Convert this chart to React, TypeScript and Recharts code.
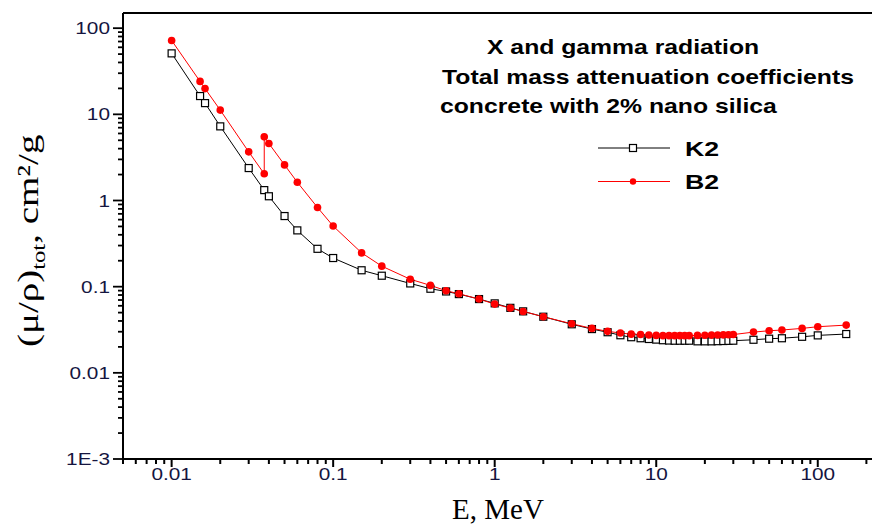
import React from 'react';
import { LineChart, Line, XAxis, YAxis, Legend, ReferenceLine } from 'recharts';

// photon energies, MeV
const energyK2 = [
  0.01, 0.015, 0.0161, 0.02, 0.03, 0.03744, 0.04, 0.05, 0.06, 0.08,
  0.1, 0.15, 0.2, 0.3, 0.4, 0.5, 0.6, 0.8, 1, 1.25,
  1.5, 2, 3, 4, 5, 6, 7, 8, 9, 10,
  11, 12, 13, 14, 15, 16, 18, 20, 22, 24,
  26, 28, 30, 40, 50, 60, 80, 100, 150,
];
const muK2 = [
  51, 16.3, 13.5, 7.25, 2.38, 1.32, 1.12, 0.66, 0.45, 0.275,
  0.215, 0.155, 0.134, 0.109, 0.0946, 0.088, 0.082, 0.0718, 0.064, 0.0568,
  0.0517, 0.0448, 0.0366, 0.0322, 0.0296, 0.0273, 0.0259, 0.0252, 0.0247, 0.0243,
  0.0239, 0.0237, 0.0236, 0.0236, 0.0236, 0.0236, 0.0232, 0.0232, 0.0232, 0.0233,
  0.0234, 0.0235, 0.0236, 0.0242, 0.0249, 0.0252, 0.0262, 0.0272, 0.0282,
];

const energyB2 = [
  0.01, 0.015, 0.0161, 0.02, 0.03, 0.03744, 0.03744, 0.04, 0.05, 0.06,
  0.08, 0.1, 0.15, 0.2, 0.3, 0.4, 0.5, 0.6, 0.8, 1,
  1.25, 1.5, 2, 3, 4, 5, 6, 7, 8, 9,
  10, 11, 12, 13, 14, 15, 16, 18, 20, 22,
  24, 26, 28, 30, 40, 50, 60, 80, 100, 150,
];
const muB2 = [
  72, 24.1, 19.9, 11.2, 3.67, 2.04, 5.48, 4.59, 2.59, 1.63,
  0.83, 0.505, 0.247, 0.173, 0.122, 0.1035, 0.0898, 0.0828, 0.0718, 0.0628,
  0.0565, 0.0516, 0.0448, 0.0371, 0.0328, 0.0303, 0.029, 0.0281, 0.0279, 0.0275,
  0.0272, 0.027, 0.027, 0.027, 0.027, 0.027, 0.027, 0.0272, 0.0273, 0.0274,
  0.0275, 0.0276, 0.0277, 0.0278, 0.0297, 0.0308, 0.0314, 0.0328, 0.0343, 0.0358,
];

const seriesNames = ['K2', 'B2'];

const xMajor = [0.01, 0.1, 1, 10, 100];
const xLabels = ['0.01', '0.1', '1', '10', '100'];
const yMajor = [0.001, 0.01, 0.1, 1, 10, 100];
const yLabels = ['1E-3', '0.01', '0.1', '1', '10', '100'];

const titleLines = [
  'X and gamma radiation',
  'Total mass attenuation coefficients',
  'concrete with 2% nano silica',
];

const k2Data = energyK2.map((e, i) => ({ e, mu: muK2[i] }));
const b2Data = energyB2.map((e, i) => ({ e, mu: muB2[i] }));

const decadeTicks = (decades: number[], lo: number, hi: number) => {
  const out: number[] = [];
  decades.forEach((d) => {
    for (let k = 1; k <= 9; k++) {
      const v = +(d * k).toPrecision(6);
      if (v >= lo && v <= hi) out.push(v);
    }
  });
  return out;
};
const xTicks = decadeTicks([0.001, 0.01, 0.1, 1, 10, 100], 0.005, 200);
const yTicks = decadeTicks([0.001, 0.01, 0.1, 1, 10, 100], 0.001, 100);

const SX = 1.27;
const SANS = 'Liberation Sans, Arial, sans-serif';
const SERIF = 'Liberation Serif, Times New Roman, serif';
const TICK_COLOR = '#15153f';

const findMajor = (list: number[], v: number) =>
  list.findIndex((m) => Math.abs(m - v) / m < 1e-6);

const XTick = (props: any) => {
  const { x, y, payload } = props;
  const idx = findMajor(xMajor, payload.value);
  const major = idx >= 0;
  return (
    <g>
      <line x1={x} x2={x} y1={y} y2={y + (major ? 8 : 5)} stroke="#000" strokeWidth={2} />
      {major && (
        <text
          transform={`translate(${x},${y + 21}) scale(1.3,1)`}
          textAnchor="middle"
          fontSize={16}
          fontFamily={SANS}
          fill={TICK_COLOR}
        >
          {xLabels[idx]}
        </text>
      )}
    </g>
  );
};

const YTick = (props: any) => {
  const { x, y, payload } = props;
  const idx = findMajor(yMajor, payload.value);
  const major = idx >= 0;
  return (
    <g>
      <line x1={x - (major ? 10 : 5)} x2={x} y1={y} y2={y} stroke="#000" strokeWidth={1.8} />
      {major && (
        <text
          transform={`translate(${x - 13},${y + 6}) scale(1.3,1)`}
          textAnchor="end"
          fontSize={16}
          fontFamily={SANS}
          fill={TICK_COLOR}
        >
          {yLabels[idx]}
        </text>
      )}
    </g>
  );
};

const SquareDot = (props: any) => {
  const { cx, cy, index } = props;
  return (
    <rect key={`k2-${index}`} x={cx - 3.5} y={cy - 3.5} width={7} height={7} fill="#fff" stroke="#000" strokeWidth={1.2} />
  );
};

const RedDot = (props: any) => {
  const { cx, cy, index } = props;
  return <circle key={`b2-${index}`} cx={cx} cy={cy} r={3.8} fill="#ff0000" />;
};

const renderLegend = (props: any) => {
  const entries = [...(props.payload || [])].sort(
    (a: any, b: any) => seriesNames.indexOf(a.value) - seriesNames.indexOf(b.value)
  );
  return (
    <svg width={150} height={70}>
      {entries.map((entry: any, i: number) => {
        const cy = 18 + i * 33.5;
        const square = entry.value === 'K2';
        return (
          <g key={entry.value}>
            <line x1={8} x2={80} y1={cy} y2={cy} stroke={entry.color} strokeWidth={1} />
            {square ? (
              <rect x={39.5} y={cy - 3.5} width={7} height={7} fill="#fff" stroke="#000" strokeWidth={1.2} />
            ) : (
              <circle cx={43} cy={cy} r={3.2} fill="#ff0000" />
            )}
            <text
              transform={`translate(95,${cy + 7.5}) scale(${SX},1)`}
              fontSize={21}
              fontWeight="bold"
              fontFamily={SANS}
              fill="#000"
            >
              {entry.value}
            </text>
          </g>
        );
      })}
    </svg>
  );
};

export default function App() {
  return (
    <div
      style={{
        position: 'absolute',
        left: 0,
        top: 0,
        width: 872,
        height: 527,
        overflow: 'hidden',
        background: '#fff',
      }}
    >
      <LineChart width={890} height={527} margin={{ top: 13, right: 0, bottom: 0, left: 0 }}>
        <XAxis
          dataKey="e"
          type="number"
          scale="log"
          domain={[0.005, 280]}
          allowDataOverflow
          ticks={xTicks}
          interval={0}
          tickSize={0}
          tickMargin={0}
          tickLine={false}
          tick={<XTick />}
          axisLine={{ stroke: '#000', strokeWidth: 2 }}
          height={68}
        />
        <YAxis
          dataKey="mu"
          type="number"
          scale="log"
          domain={[0.001, 150]}
          allowDataOverflow
          ticks={yTicks}
          interval={0}
          tickSize={0}
          tickMargin={0}
          tickLine={false}
          tick={<YTick />}
          axisLine={{ stroke: '#000', strokeWidth: 2 }}
          width={123}
        />
        <ReferenceLine y={150} stroke="#000" strokeWidth={2} />
        <Line
          data={k2Data}
          dataKey="mu"
          name="K2"
          type="linear"
          stroke="#000"
          strokeWidth={1}
          dot={SquareDot}
          activeDot={false}
          isAnimationActive={false}
        />
        <Line
          data={b2Data}
          dataKey="mu"
          name="B2"
          type="linear"
          stroke="#ff0000"
          strokeWidth={1}
          dot={RedDot}
          activeDot={false}
          isAnimationActive={false}
        />
        <Legend
          layout="horizontal"
          verticalAlign="middle"
          align="center"
          content={renderLegend}
          wrapperStyle={{ position: 'absolute', left: 590, top: 130, width: 150, height: 70 }}
        />
      </LineChart>
      <svg
        width={872}
        height={527}
        style={{ position: 'absolute', left: 0, top: 0, pointerEvents: 'none' }}
      >
        {titleLines.map((t, i) => (
          <text
            key={t}
            transform={`translate(${[487, 442, 440][i]},${54 + i * 29.5}) scale(${SX},1)`}
            fontSize={19.5}
            fontWeight="bold"
            fontFamily={SANS}
            fill="#000"
          >
            {t}
          </text>
        ))}
        <text x={498} y={519} textAnchor="middle" fontSize={29} fontFamily={SERIF} fill="#000">
          E, MeV
        </text>
        <text
          transform="translate(38,347) rotate(-90) scale(1.3,1)"
          fontSize={30}
          fontFamily={SERIF}
          fill="#000"
        >
          (μ/ρ)
          <tspan fontSize={19} dy={7}>tot</tspan>
          <tspan dy={-7}>, cm²/g</tspan>
        </text>
      </svg>
    </div>
  );
}
